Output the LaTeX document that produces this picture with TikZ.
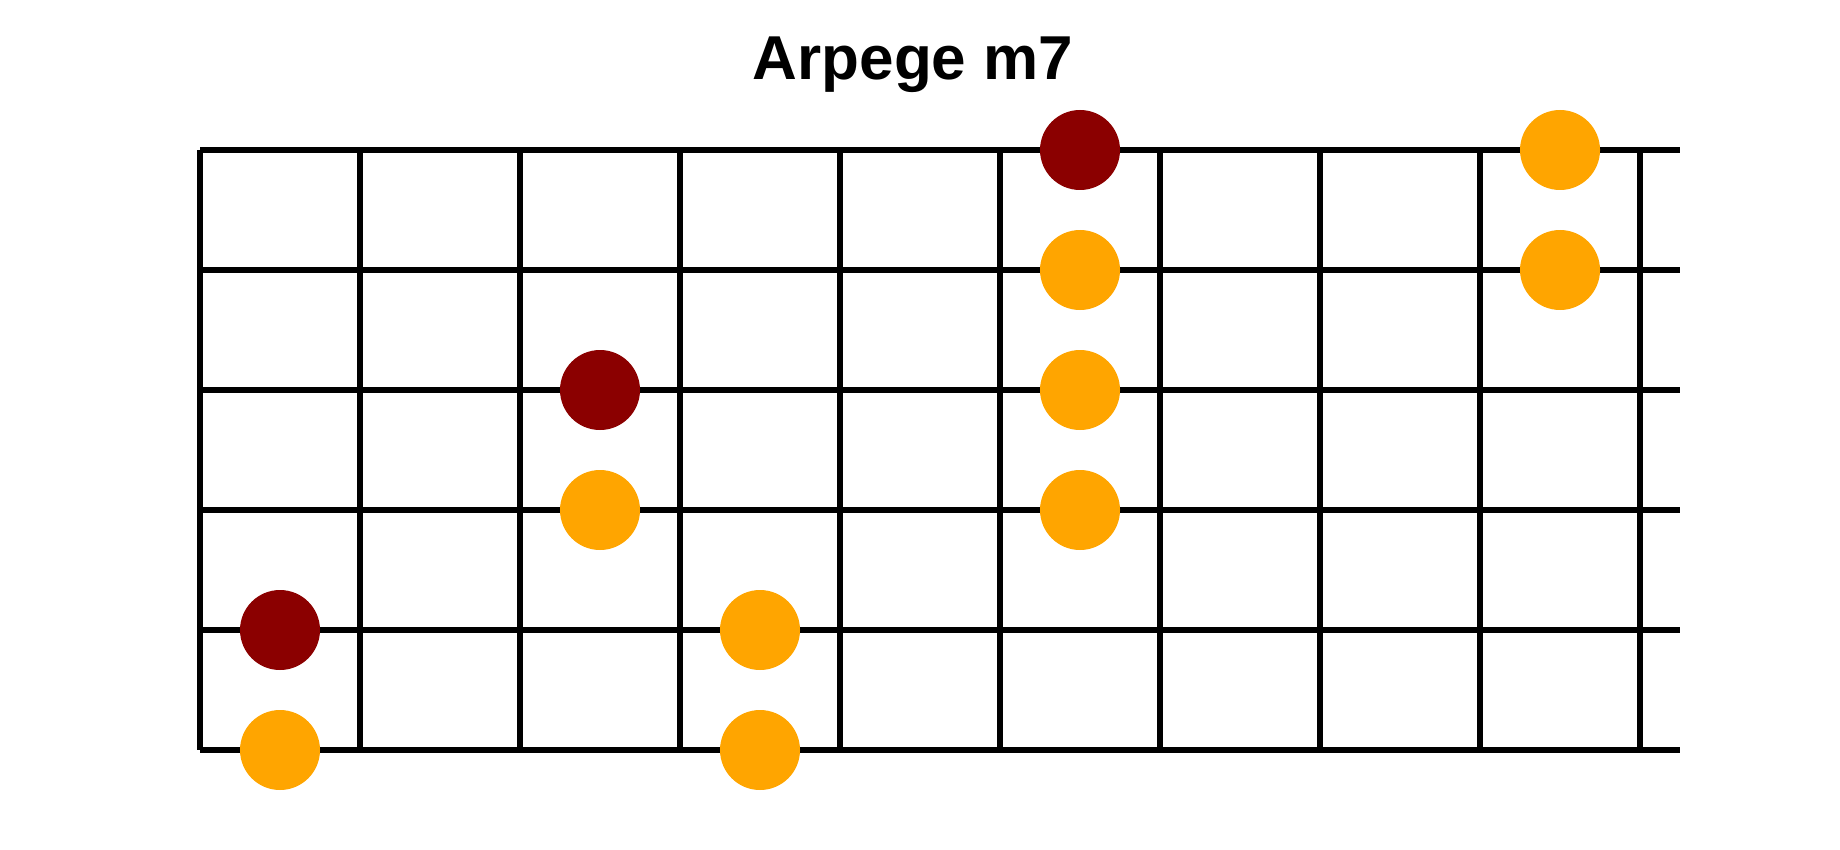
\documentclass[tikz,border=0pt]{standalone}
\usepackage{fontspec}
\setmainfont{Liberation Sans}
\usepackage{tikz}
\usetikzlibrary{calc}
\definecolor{rootred}{HTML}{8B0000}
\definecolor{noteorange}{HTML}{FFA500}

\begin{document}
\begin{tikzpicture}[x=0.5pt,y=-0.5pt]
	\tikzstyle{wire} = [draw, line width=2.8pt];
	\tikzstyle{root} = [circle, fill=rootred, minimum size=40pt, inner sep=0pt]
	\tikzstyle{tone} = [circle, fill=noteorange, minimum size=40pt, inner sep=0pt]

	\useasboundingbox (0,0) rectangle (1840,850);

	\node[anchor=base] (title) at (913,80) {\fontsize{31}{31}\selectfont\bfseries Arpege m7};

	% strings
	\foreach \s in {0,...,5}
		\path[wire] (200,150+120*\s) -- (1680,150+120*\s);
	% frets
	\foreach \f in {0,...,9}
		\path[wire] (200+160*\f,150) -- (200+160*\f,750);

	% notes, string 1 on top
	\node[root] (s1f6) at (1080,150) {};
	\node[tone] (s1f9) at (1560,150) {};
	\node[tone] (s2f6) at (1080,270) {};
	\node[tone] (s2f9) at (1560,270) {};
	\node[root] (s3f3) at (600,390) {};
	\node[tone] (s3f6) at (1080,390) {};
	\node[tone] (s4f3) at (600,510) {};
	\node[tone] (s4f6) at (1080,510) {};
	\node[root] (s5f1) at (280,630) {};
	\node[tone] (s5f4) at (760,630) {};
	\node[tone] (s6f1) at (280,750) {};
	\node[tone] (s6f4) at (760,750) {};
\end{tikzpicture}
\end{document}
